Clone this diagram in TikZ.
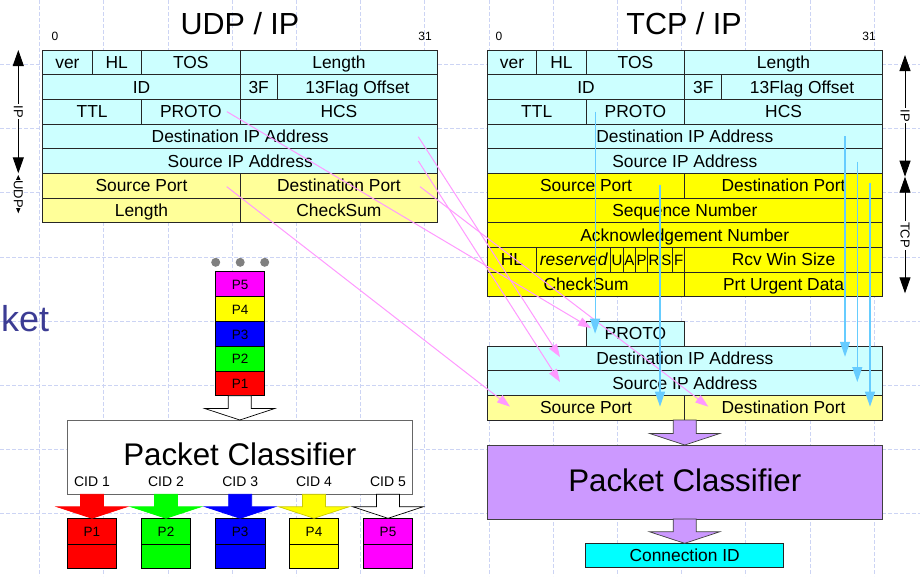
\documentclass[tikz,border=0pt]{standalone}
\usepackage{fontspec}
\setmainfont{Liberation Sans}
\usetikzlibrary{calc,arrows.meta}

\definecolor{gridc}{HTML}{CCD4F4}
\definecolor{cyanlt}{HTML}{CCFFFF}
\definecolor{yellowlt}{HTML}{FFFF99}
\definecolor{yellowf}{HTML}{FFFF00}
\definecolor{purp}{HTML}{CC99FF}
\definecolor{cyanf}{HTML}{00FFFF}
\definecolor{pinkc}{HTML}{FF99FF}
\definecolor{bluec}{HTML}{66CCFF}
\definecolor{ketc}{HTML}{3C3C94}
\definecolor{dotc}{HTML}{808080}
\definecolor{pred}{HTML}{FF0000}
\definecolor{pgreen}{HTML}{00FF00}
\definecolor{pblue}{HTML}{0000FF}
\definecolor{pmag}{HTML}{FF00FF}

\newcommand\fsz[1]{\fontsize{#1}{#1}\selectfont}
% \fcell[options]{name}{x1}{y1}{x2}{y2}{text}: a box given by its corners
\newcommand\fcell[7][]{\node[cellbox,#1,minimum width={(#5)-(#3)},minimum height={(#6)-(#4)}] (#2) at ({((#3)+(#5))/2},{((#4)+(#6))/2}) {#7};}
% \blockdown{top point}{tip point}{fill}{outline}: a wide downward block arrow
\newcommand\blockdown[4]{\draw[draw=#4,fill=#3,line width=0.7pt,line join=miter]
  let \p1=(#1), \p2=(#2) in
  (\x2-11.5pt,\y1) -- (\x2+11.5pt,\y1) -- (\x2+11.5pt,\y2+11.5pt) -- (\x2+35pt,\y2+11.5pt)
  -- (\x2,\y2) -- (\x2-35pt,\y2+11.5pt) -- (\x2-11.5pt,\y2+11.5pt) -- cycle;}

\begin{document}
\begin{tikzpicture}[x=1pt,y=-1pt,
  cellbox/.style={draw=black!85,line width=0.9pt,inner sep=0pt,outer sep=0pt,
    font=\fsz{17.4},text height=12.5pt,text depth=0pt},
  pbox/.style={draw=black,line width=0.8pt,font=\fsz{13.5},text height=9.7pt},
  flagbox/.style={font=\fsz{15},text height=10.7pt},
  gridline/.style={draw=gridc,line width=0.8pt,dash pattern=on 4pt off 2pt},
  pinkarr/.style={draw=pinkc,line width=1pt,-{Triangle[length=13pt,width=9pt]}},
  bluearr/.style={draw=bluec,line width=1.1pt,-{Triangle[length=15pt,width=10pt]}},
  sidearr/.style={draw=black,line width=0.9pt,{Triangle[length=16pt,width=11pt]}-{Triangle[length=16pt,width=11pt]}},
  smallarr/.style={draw=black,line width=0.9pt,{Triangle[length=9pt,width=8pt]}-{Triangle[length=10pt,width=8pt]}},
  sidelbl/.style={fill=white,inner sep=1.5pt,rotate=-90,font=\fsz{13}},
  title/.style={font=\fsz{30.5},text height=21.8pt,text depth=0pt,inner sep=0pt},
  bitno/.style={font=\fsz{12},text height=8.6pt,text depth=0pt,inner sep=0pt},
  cidlbl/.style={font=\fsz{14},text height=10pt,text depth=0pt,inner sep=0pt},
]
\useasboundingbox (0,0) rectangle (920,576);
\fill[white] (0,0) rectangle (920,576);

% background grid
\foreach \k in {0,...,13} \draw[gridline] ({39.5+64.2*\k},0) -- ({39.5+64.2*\k},576);
\foreach \k in {0,...,7} \draw[gridline] (0,{64.3+64.2*\k}) -- (920,{64.3+64.2*\k});

\node[anchor=base west,text=ketc,font=\fsz{36},inner sep=0pt] (ket) at (1,331.7) {ket};

% ---------------- UDP / IP header ----------------
\node[title] (udptitle) at (240,23.5) {UDP / IP};
\node[bitno] (ubit0) at (55,36.2) {0};
\node[bitno] (ubit31) at (425,36.2) {31};

\fcell[fill=cyanlt]{uver}{42.7}{50}{92.1}{74.7}{ver}
\fcell[fill=cyanlt]{uhl}{92.1}{50}{141.5}{74.7}{HL}
\fcell[fill=cyanlt]{utos}{141.5}{50}{240.2}{74.7}{TOS}
\fcell[fill=cyanlt]{ulen}{240.2}{50}{437.7}{74.7}{Length}
\fcell[fill=cyanlt]{uid}{42.7}{74.7}{240.2}{99.3}{ID}
\fcell[fill=cyanlt]{uthree}{240.2}{74.7}{277.2}{99.3}{3F}
\fcell[fill=cyanlt]{uoff}{277.2}{74.7}{437.7}{99.3}{13Flag Offset}
\fcell[fill=cyanlt]{uttl}{42.7}{99.3}{141.5}{124}{TTL}
\fcell[fill=cyanlt]{uproto}{141.5}{99.3}{240.2}{124}{PROTO}
\fcell[fill=cyanlt]{uhcs}{240.2}{99.3}{437.7}{124}{HCS}
\fcell[fill=cyanlt]{udst}{42.7}{124}{437.7}{148.7}{Destination IP Address}
\fcell[fill=cyanlt]{usrc}{42.7}{148.7}{437.7}{173.3}{Source IP Address}
\fcell[fill=yellowlt]{usport}{42.7}{173.3}{240.2}{198}{Source Port}
\fcell[fill=yellowlt]{udport}{240.2}{173.3}{437.7}{198}{Destination Port}
\fcell[fill=yellowlt]{uulen}{42.7}{198}{240.2}{222.7}{Length}
\fcell[fill=yellowlt]{ucks}{240.2}{198}{437.7}{222.7}{CheckSum}

% ---------------- TCP / IP header ----------------
\node[title] (tcptitle) at (684,23.5) {TCP / IP};
\node[bitno] (tbit0) at (499,36.2) {0};
\node[bitno] (tbit31) at (869,36.2) {31};

\fcell[fill=cyanlt]{tver}{487.3}{50}{536.7}{74.7}{ver}
\fcell[fill=cyanlt]{thl}{536.7}{50}{586.1}{74.7}{HL}
\fcell[fill=cyanlt]{ttos}{586.1}{50}{684.8}{74.7}{TOS}
\fcell[fill=cyanlt]{tlen}{684.8}{50}{882.3}{74.7}{Length}
\fcell[fill=cyanlt]{tid}{487.3}{74.7}{684.8}{99.3}{ID}
\fcell[fill=cyanlt]{tthree}{684.8}{74.7}{721.8}{99.3}{3F}
\fcell[fill=cyanlt]{toff}{721.8}{74.7}{882.3}{99.3}{13Flag Offset}
\fcell[fill=cyanlt]{tttl}{487.3}{99.3}{586.1}{124}{TTL}
\fcell[fill=cyanlt]{tproto}{586.1}{99.3}{684.8}{124}{PROTO}
\fcell[fill=cyanlt]{thcs}{684.8}{99.3}{882.3}{124}{HCS}
\fcell[fill=cyanlt]{tdst}{487.3}{124}{882.3}{148.7}{Destination IP Address}
\fcell[fill=cyanlt]{tsrc}{487.3}{148.7}{882.3}{173.3}{Source IP Address}
\fcell[fill=yellowf]{tsport}{487.3}{173.3}{684.8}{198}{Source Port}
\fcell[fill=yellowf]{tdport}{684.8}{173.3}{882.3}{198}{Destination Port}
\fcell[fill=yellowf]{tseq}{487.3}{198}{882.3}{222.7}{Sequence Number}
\fcell[fill=yellowf]{tack}{487.3}{222.7}{882.3}{247.3}{Acknowledgement Number}
\fcell[fill=yellowf]{thlen}{487.3}{247.3}{536.7}{272}{HL}
\fcell[fill=yellowf]{tres}{536.7}{247.3}{610.8}{272}{\itshape reserved}
\fcell[fill=yellowf,flagbox]{tfu}{610.8}{247.3}{623.1}{272}{U}
\fcell[fill=yellowf,flagbox]{tfa}{623.1}{247.3}{635.5}{272}{A}
\fcell[fill=yellowf,flagbox]{tfp}{635.5}{247.3}{647.8}{272}{P}
\fcell[fill=yellowf,flagbox]{tfr}{647.8}{247.3}{660.2}{272}{R}
\fcell[fill=yellowf,flagbox]{tfs}{660.2}{247.3}{672.5}{272}{S}
\fcell[fill=yellowf,flagbox]{tff}{672.5}{247.3}{684.8}{272}{F}
\fcell[fill=yellowf]{twin}{684.8}{247.3}{882.3}{272}{Rcv Win Size}
\fcell[fill=yellowf]{tcks}{487.3}{272}{684.8}{296.7}{CheckSum}
\fcell[fill=yellowf]{turg}{684.8}{272}{882.3}{296.7}{Prt Urgent Data}

% ---------------- extracted key and classifier (TCP side) ----------------
\fcell[fill=cyanlt]{lproto}{586.1}{321.3}{684.8}{346}{PROTO}
\fcell[fill=cyanlt]{ldst}{487.3}{346}{882.3}{370.7}{Destination IP Address}
\fcell[fill=cyanlt]{lsrc}{487.3}{370.7}{882.3}{395.3}{Source IP Address}
\fcell[fill=yellowlt]{lsport}{487.3}{395.3}{684.8}{420}{Source Port}
\fcell[fill=yellowlt]{ldport}{684.8}{395.3}{882.3}{420}{Destination Port}
\fcell[fill=purp,draw=black!75,font=\fsz{31.3},text height=22.4pt,text depth=4pt]{rcls}{487.3}{445}{882.3}{519}{Packet Classifier}
\fcell[fill=cyanf]{cid}{585.7}{543.3}{783.6}{567.7}{Connection ID}

\blockdown{lsport.south -| rcls.north}{rcls.north}{purp}{black!75}
\blockdown{rcls.south}{cid.north}{purp}{black!75}

% ---------------- packet queue and classifier (UDP side) ----------------
\node[circle,fill=dotc,inner sep=0pt,minimum size=9pt] (dot1) at (215.7,262.3) {};
\node[circle,fill=dotc,inner sep=0pt,minimum size=9pt] (dot2) at (240.2,262.3) {};
\node[circle,fill=dotc,inner sep=0pt,minimum size=9pt] (dot3) at (264.7,262.3) {};
\fcell[pbox,fill=pmag]{s5}{215.7}{271.7}{264.7}{296.7}{P5}
\fcell[pbox,fill=yellowf]{s4}{215.7}{296.7}{264.7}{321.7}{P4}
\fcell[pbox,fill=pblue]{s3}{215.7}{321.7}{264.7}{346.7}{P3}
\fcell[pbox,fill=pgreen]{s2}{215.7}{346.7}{264.7}{371.2}{P2}
\fcell[pbox,fill=pred]{s1}{215.7}{371.2}{264.7}{395.7}{P1}

\fcell[fill=white,draw=black!60,line width=0.8pt,font=\fsz{31.3},text height=22.4pt,text depth=4.9pt]{lcls}{67.3}{420}{412.3}{494.3}{Packet Classifier}
\blockdown{s1.south}{lcls.north}{white}{black}

\foreach \i/\c/\col in {1/92/pred,2/166/pgreen,3/240.2/pblue,4/314/yellowf,5/388/pmag}{
  \node[cidlbl] (cidl\i) at (\c,481) {CID \i};
  \fcell[pbox,fill=\col]{pa\i}{\c-24.7}{518.3}{\c+24.7}{544}{P\i}
  \fcell[pbox,fill=\col]{pb\i}{\c-24.7}{544}{\c+24.7}{568.3}{}
}
\blockdown{lcls.south -| pa1.north}{pa1.north}{pred}{pred}
\blockdown{lcls.south -| pa2.north}{pa2.north}{pgreen}{pgreen}
\blockdown{lcls.south -| pa3.north}{pa3.north}{pblue}{pblue}
\blockdown{lcls.south -| pa4.north}{pa4.north}{yellowf}{yellowf!80!black}
\blockdown{lcls.south -| pa5.north}{pa5.north}{white}{black}

% ---------------- field mapping, UDP header to key ----------------
\draw[pinkarr] ($(uproto.east)+(-13.3,0)$) -- ($(lproto.west)+(5,-5.5)$);
\draw[pinkarr] ($(udst.east)+(-19.4,0.4)$) -- ($(ldst.west)+(72.7,-1.3)$);
\draw[pinkarr] ($(usrc.east)+(-19.4,0)$) -- ($(lsrc.west)+(72.7,-1)$);
\draw[pinkarr] ($(udport.east)+(-17.7,1)$) -- ($(ldport.west)+(23.5,-1)$);
\draw[pinkarr] ($(usport.east)+(-13.5,1)$) -- ($(lsport.west)+(22.7,-1)$);

% ---------------- field mapping, TCP header to key ----------------
\draw[bluearr] ($(tproto.west)+(9,0)$) -- ($(lproto.west)+(9,0)$);
\draw[bluearr] ($(tsport.east)+(-24.8,-0.7)$) -- ($(lsport.east)+(-24.8,-1)$);
\draw[bluearr] ($(tdst.east)+(-37.3,0)$) -- ($(ldst.east)+(-37.3,-1.6)$);
\draw[bluearr] ($(tsrc.east)+(-25,0.7)$) -- ($(lsrc.east)+(-25,-1)$);
\draw[bluearr] ($(tdport.east)+(-12.3,-2.4)$) -- ($(ldport.east)+(-12.3,-1)$);

% ---------------- layer extents ----------------
\coordinate (lipT) at (18.3,50);
\coordinate (lipB) at (18.3,173.3);
\coordinate (ludpT) at (18.3,175);
\coordinate (ludpB) at (18.3,213.3);
\draw[sidearr] (lipT) -- node[sidelbl] (liplbl) {IP} (lipB);
\draw[smallarr] (ludpT) -- node[sidelbl,inner sep=0.5pt] (ludplbl) {UDP} (ludpB);

\coordinate (ripT) at (905,55);
\coordinate (ripB) at (905,176.7);
\coordinate (rtcpT) at (905,176.7);
\coordinate (rtcpB) at (905,293.3);
\draw[sidearr] (ripT) -- node[sidelbl] (riplbl) {IP} (ripB);
\draw[sidearr] (rtcpT) -- node[sidelbl] (rtcplbl) {TCP} (rtcpB);
\end{tikzpicture}
\end{document}
